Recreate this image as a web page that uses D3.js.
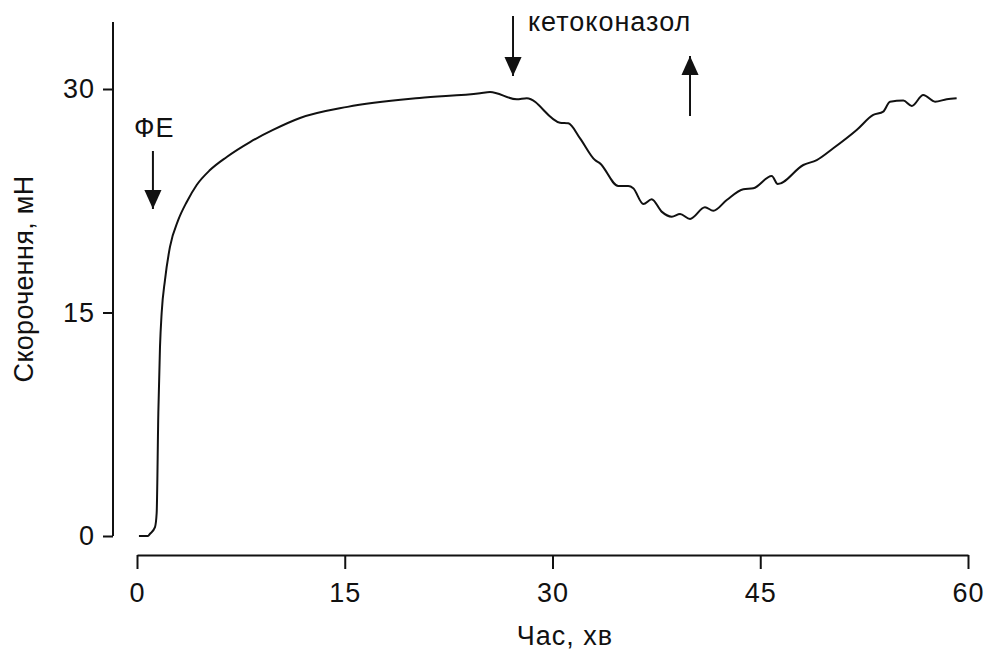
<!DOCTYPE html>
<html>
<head>
	<meta charset="utf-8">
	<title>contraction</title>
	<style>
	body { margin: 0; background: #fff; }
	text { font-family: "Liberation Sans", Arial, sans-serif; fill: #111; }
	.ticktext { font-size: 27px; letter-spacing: 1px; }
	.title { font-size: 27px; letter-spacing: 1px; }
	.ytitle { font-size: 27px; letter-spacing: 0.3px; }
	</style>
	<script src="https://d3js.org/d3.v7.min.js"></script>
</head>
<body>
	<script type="text/javascript">
		// час, хв
		var timeMin = [0.14, 0.79, 0.94, 1.3, 1.42, 1.54, 1.66, 1.78, 2.02, 2.38, 2.98, 3.59, 4.31, 5.27, 6.48,
			8.16, 9.82, 11.77, 15.2, 20.4, 24.77,
			25.49, 27.42, 28.14, 30.54, 31.14, 31.99, 33.07, 33.43, 34.75, 35.47, 35.83, 36.56, 37.16, 37.88,
			38.61, 39.21, 39.93, 41.01, 41.61, 42.58, 43.78, 44.5, 45.83, 46.26, 48.11, 49.08, 50.27, 51.96,
			53.16, 53.88, 54.37, 55.33, 55.94, 56.77, 57.62, 58.46, 59.18];
		// скорочення, мН
		var forceMN = [0, 0, 0.15, 0.6, 1.54, 8.26, 12.68, 14.97, 17.18, 19.4, 21.21, 22.42, 23.56, 24.56, 25.44,
			26.44, 27.25, 28.05, 28.8, 29.4, 29.71,
			29.8, 29.31, 29.38, 27.74, 27.7, 26.69, 25.23, 25.01, 23.49, 23.49, 23.34, 22.28, 22.6, 21.77,
			21.43, 21.61, 21.28, 22.06, 21.83, 22.55, 23.27, 23.34, 24.16, 23.62, 24.9, 25.23, 26.02, 27.25,
			28.26, 28.48, 29.15, 29.22, 28.86, 29.6, 29.15, 29.31, 29.38];
		var xTicks = [0, 15, 30, 45, 60];
		var yTicks = [0, 15, 30];

		var svgWidth = 990;
		var svgHeight = 652;

		var svg = d3.select('body').append('svg')
			.attr('width', svgWidth)
			.attr('height', svgHeight);

		var x = d3.scaleLinear().domain([0, 60]).range([137, 968]);
		var y = d3.scaleLinear().domain([0, 30]).range([536, 89]);

		// вісь Y
		svg.append('line')
			.attr('x1', 113).attr('x2', 113)
			.attr('y1', 22).attr('y2', y(0))
			.style('stroke', '#111').style('stroke-width', 2);

		var yAxis = svg.append('g')
			.attr('transform', 'translate(113,0)')
			.call(d3.axisLeft(y).tickValues(yTicks).tickSize(10).tickPadding(8));
		yAxis.select('.domain').remove();
		yAxis.selectAll('line').style('stroke', '#111').style('stroke-width', 2);
		yAxis.selectAll('text').attr('class', 'ticktext').attr('font-size', null).attr('font-family', null);

		// вісь X
		var xAxis = svg.append('g')
			.attr('transform', 'translate(0,555)')
			.call(d3.axisBottom(x).tickValues(xTicks).tickSize(14).tickSizeOuter(0).tickPadding(14));
		xAxis.select('.domain').style('stroke', '#111').style('stroke-width', 2);
		xAxis.selectAll('line').style('stroke', '#111').style('stroke-width', 2);
		xAxis.selectAll('text').attr('class', 'ticktext').attr('font-size', null).attr('font-family', null);

		// назви осей
		svg.append('text')
			.attr('class', 'title')
			.attr('x', 565).attr('y', 645)
			.attr('text-anchor', 'middle')
			.text('Час, хв');

		svg.append('text')
			.attr('class', 'ytitle')
			.attr('transform', 'translate(33,279) rotate(-90)')
			.attr('text-anchor', 'middle')
			.text('Скорочення, мН');

		// крива
		var points = timeMin.map(function (t, i) { return [t, forceMN[i]]; });
		var line = d3.line()
			.x(function (d) { return x(d[0]); })
			.y(function (d) { return y(d[1]); })
			.curve(d3.curveMonotoneX);

		svg.append('path')
			.datum(points)
			.attr('d', line)
			.style('fill', 'none')
			.style('stroke', '#111')
			.style('stroke-width', 2);

		// стрілки
		var defs = svg.append('defs');
		defs.append('marker')
			.attr('id', 'head')
			.attr('viewBox', '0 -10 20 20')
			.attr('markerWidth', 19)
			.attr('markerHeight', 19)
			.attr('markerUnits', 'userSpaceOnUse')
			.attr('refX', 20)
			.attr('refY', 0)
			.attr('orient', 'auto')
			.append('path')
			.attr('d', 'M0,-9L20,0L0,9Z')
			.attr('fill', '#111');

		var arrows = [
			{ t: 1.15, y1: 151, y2: 209 },
			{ t: 27.15, y1: 16, y2: 76 },
			{ t: 39.93, y1: 116, y2: 56 }
		];
		svg.selectAll('.arrow')
			.data(arrows)
			.enter()
			.append('line')
			.attr('class', 'arrow')
			.attr('x1', function (d) { return x(d.t); })
			.attr('x2', function (d) { return x(d.t); })
			.attr('y1', function (d) { return d.y1; })
			.attr('y2', function (d) { return d.y2; })
			.style('stroke', '#111')
			.style('stroke-width', 2)
			.attr('marker-end', 'url(#head)');

		svg.append('text')
			.attr('class', 'title')
			.attr('x', 134).attr('y', 137)
			.text('ФЕ');

		svg.append('text')
			.attr('class', 'title')
			.attr('x', 528).attr('y', 31)
			.text('кетоконазол');
	</script>
</body>
</html>
